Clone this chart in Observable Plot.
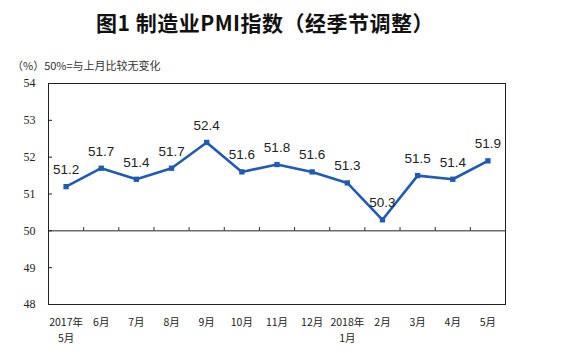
<!DOCTYPE html>
<html><head><meta charset="utf-8">
<script src="https://cdn.jsdelivr.net/npm/d3@7"></script>
<script src="https://cdn.jsdelivr.net/npm/@observablehq/plot@0.6"></script>
<style>
body{margin:0;background:#fff;}
#wrap{position:relative;width:578px;height:353px;overflow:hidden;}
#title{position:absolute;top:7px;left:0;width:530px;text-align:center;font-family:"Noto Sans CJK SC",sans-serif;font-weight:bold;font-size:21px;color:#111;letter-spacing:0.5px;}
#sub{position:absolute;top:57px;left:12px;font-family:"Noto Sans CJK SC",sans-serif;font-size:11px;color:#333;}
#chart{position:absolute;top:0;left:0;}
</style></head>
<body><div id="wrap">
<div id="chart"></div>
<div id="title">图1 制造业PMI指数（经季节调整）</div>
<div id="sub">（%）50%=与上月比较无变化</div>
</div>
<script>
const months = ["2017年\n5月","6月","7月","8月","9月","10月","11月","12月","2018年\n1月","2月","3月","4月","5月"];
const pmi = [51.2, 51.7, 51.4, 51.7, 52.4, 51.6, 51.8, 51.6, 51.3, 50.3, 51.5, 51.4, 51.9];
const yTicks = [48, 49, 50, 51, 52, 53, 54];
const baseline = 50;

const data = pmi.map((v, i) => ({i, v, m: months[i]}));
const bounds = months.slice(1).map((_, i) => i + 0.5);
const blue = "#1f5ab5";

const chart = Plot.plot({
  width: 578, height: 353,
  marginTop: 83, marginBottom: 49, marginLeft: 48, marginRight: 73,
  x: {domain: [-0.5, months.length - 0.5]},
  y: {domain: [48, 54]},
  style: {background: "#fff"},
  marks: [
    Plot.frame({stroke: "#222"}),
    Plot.ruleY([baseline], {stroke: "#222"}),
    Plot.ruleX(bounds, {x: d => d, y1: baseline, y2: baseline + 0.085, stroke: "#222"}),
    Plot.axisY(yTicks, {anchor: "left", tickSize: 4, dx: 4, text: null, stroke: "#222", label: null}),
    Plot.axisY(yTicks, {anchor: "left", tickSize: 0, tickPadding: 13, fontFamily: "Liberation Serif", fontSize: 12, fill: "#222", label: null}),
    Plot.axisX(d3.range(months.length), {anchor: "bottom", tickSize: 0, tickPadding: 10, tickFormat: i => months[i], fontFamily: "Noto Sans CJK SC", fontSize: 10.5, fill: "#222", label: null, lineHeight: 1.55}),
    Plot.line(data, {x: "i", y: "v", stroke: blue, strokeWidth: 2.6}),
    Plot.dot(data, {x: "i", y: "v", symbol: "square", r: 3, fill: blue, stroke: "none"}),
    Plot.text(data, {x: "i", y: "v", text: d => d.v.toFixed(1), dy: -17, fontFamily: "Liberation Sans", fontSize: 13.5, fill: "#222"})
  ]
});
document.getElementById("chart").appendChild(chart);
</script>
</body></html>
